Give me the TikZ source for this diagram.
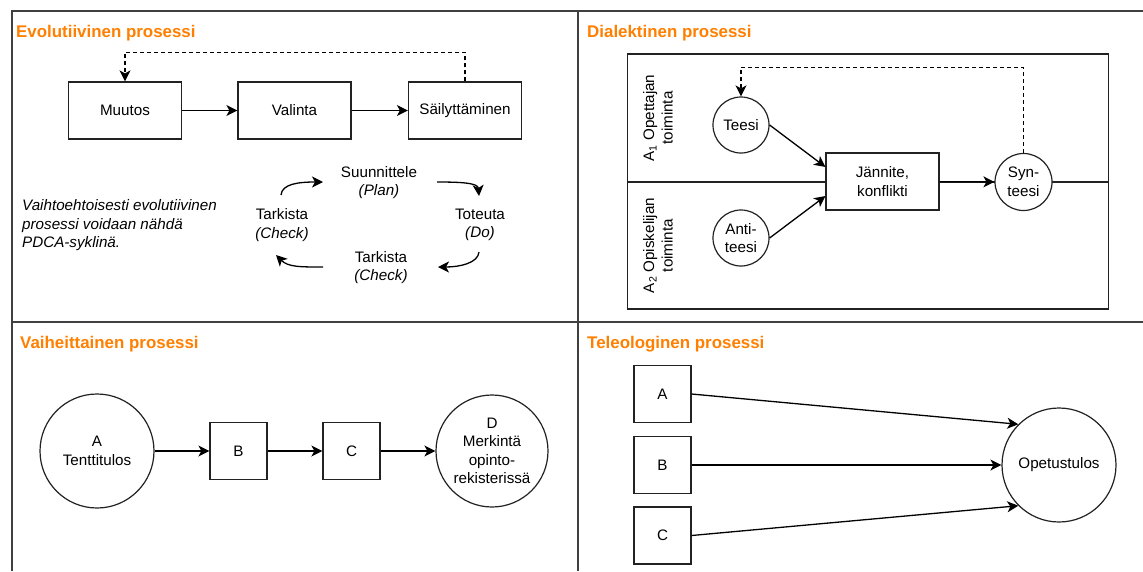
\documentclass[tikz,border=0pt]{standalone}
\usepackage{fontspec}
\setmainfont{Liberation Sans}
\usetikzlibrary{arrows.meta,calc}
\definecolor{titleorange}{HTML}{FF8000}
\definecolor{ink}{HTML}{222222}

\begin{document}
\begin{tikzpicture}[x=1pt,y=-1pt,
  every node/.style={font=\fontsize{15.2}{18.5}\selectfont, text=black},
  paneltitle/.style={anchor=base west, inner sep=0pt, text=titleorange,
    font=\fontsize{16.9}{20}\selectfont\bfseries},
  box/.style={draw=ink, line width=1.2pt, fill=white, minimum width=113pt,
    minimum height=57pt, inner sep=2pt, align=center},
  sq/.style={draw=ink, line width=1.2pt, fill=white, minimum width=57pt, minimum height=57pt},
  rnd/.style={draw=ink, line width=1.2pt, fill=white, circle, inner sep=0pt,
    minimum size=#1, align=center},
  arr/.style={draw=black, line width=1.3pt, -{Stealth[length=11pt,width=11pt,inset=3pt]}},
  dasharr/.style={arr, dash pattern=on 4pt off 3pt},
  frame/.style={draw=black!75, line width=1.4pt},
  lane/.style={draw=ink, line width=1.2pt},
  cyc/.style={align=center, inner sep=1pt},
]
\useasboundingbox (0,0) rectangle (1143,571);
\fill[white] (0,0) rectangle (1143,571);

% panel frame
\draw[frame] (12,571) -- (12,11) -- (1143,11);
\draw[frame] (578,11) -- (578,571);
\draw[frame] (12,322) -- (1143,322);

% panel titles
\node[paneltitle] (t1) at (16,37) {Evolutiivinen prosessi};
\node[paneltitle] (t2) at (587,37) {Dialektinen prosessi};
\node[paneltitle] (t3) at (20,348) {Vaiheittainen prosessi};
\node[paneltitle] (t4) at (587,348) {Teleologinen prosessi};

% --- evolutionary process ---
\node[box] (muutos) at (125,110.5) {Muutos};
\node[box] (valinta) at (294.5,110.5) {Valinta};
\node[box] (sail) at (465,110.5) {Säilyttäminen};
\draw[arr] (muutos) -- (valinta);
\draw[arr] (valinta) -- (sail);
\draw[dasharr] (sail.north) -- ++(0,-29) -| (muutos.north);

\node[anchor=west, align=left, inner sep=0pt,
  font=\fontsize{15.2}{18.5}\selectfont\itshape] (note) at (22,225.5)
  {Vaihtoehtoisesti evolutiivinen\\prosessi voidaan nähdä\\PDCA-syklinä.};

% PDCA cycle
\node[cyc] (plan) at (379,182.5) {Suunnittele\\\textit{(Plan)}};
\node[cyc] (do) at (480,225) {Toteuta\\\textit{(Do)}};
\node[cyc] (check) at (381,267.5) {Tarkista\\\textit{(Check)}};
\node[cyc] (act) at (282,225) {Tarkista\\\textit{(Check)}};
\coordinate (c1a) at (281,195);
\coordinate (c1b) at (323,182);
\coordinate (c2a) at (437,182);
\coordinate (c2b) at (479,196);
\coordinate (c3a) at (479,252);
\coordinate (c3b) at (438,267);
\coordinate (c4a) at (323,267);
\coordinate (c4b) at (276,255);
\draw[arr] (c1a) .. controls (282,184) and (298,182) .. (c1b);
\draw[arr] (c2a) .. controls (462,182) and (478,183) .. (c2b);
\draw[arr] (c3a) .. controls (478,263) and (460,267) .. (c3b);
\draw[arr] (c4a) .. controls (300,267) and (288,267) .. (c4b);

% --- dialectic process ---
\draw[lane] (627.5,54) rectangle (1108.5,309);
\draw[lane] (627.5,182) -- (1108.5,182);
\node[rotate=90, align=center] (lane1) at (658,118) {A\textsubscript{1} Opettajan\\toiminta};
\node[rotate=90, align=center] (lane2) at (658,245.5) {A\textsubscript{2} Opiskelijan\\toiminta};

\node[rnd=56pt] (teesi) at (741,125) {Teesi};
\node[rnd=56pt] (anti) at (741,238) {Anti-\\teesi};
\node[box] (jan) at (882.5,181.5) {Jännite,\\konflikti};
\node[rnd=57pt] (syn) at (1023.5,182) {Syn-\\teesi};
\draw[arr] (teesi.east) -- ($(jan.north west)!0.25!(jan.south west)$);
\draw[arr] (anti.east) -- ($(jan.north west)!0.75!(jan.south west)$);
\draw[arr] (jan) -- (syn);
\draw[dasharr] (syn.north) -- ++(0,-85.5) -| (teesi.north);

% --- stepwise process ---
\node[rnd=114pt] (a) at (97,451) {A\\Tenttitulos};
\node[sq] (b) at (238.5,451) {B};
\node[sq] (c) at (351.5,451) {C};
\node[rnd=112pt] (d) at (492,451) {D\\Merkintä\\opinto-\\rekisterissä};
\draw[arr] (a) -- (b);
\draw[arr] (b) -- (c);
\draw[arr] (c) -- (d);

% --- teleological process ---
\node[sq] (ta) at (662.5,394) {A};
\node[sq] (tb) at (662.5,465) {B};
\node[sq] (tc) at (662.5,535.5) {C};
\node[rnd=114pt] (goal) at (1059,465) {Opetustulos};
\draw[arr] (ta.east) -- (goal.135);
\draw[arr] (tb) -- (goal);
\draw[arr] (tc.east) -- (goal.225);
\end{tikzpicture}
\end{document}
